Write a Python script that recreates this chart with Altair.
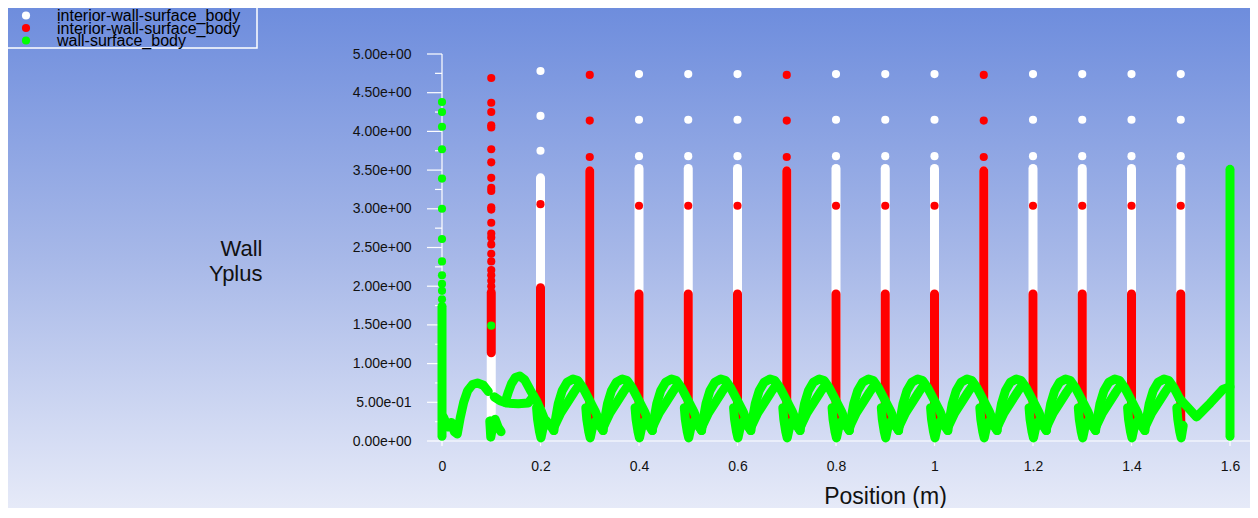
import altair as alt
import pandas as pd

# ---------------- data ----------------
SERIES_NAMES = ["interior-wall-surface_body", "interior-wall-surface_body", "wall-surface_body"]
SERIES_COLORS = ["#ffffff", "#ff0000", "#00ff00"]

X_TICKS = [0, 0.2, 0.4, 0.6, 0.8, 1.0, 1.2, 1.4, 1.6]
Y_TICKS = [0.0, 0.5, 1.0, 1.5, 2.0, 2.5, 3.0, 3.5, 4.0, 4.5, 5.0]
Y_MINOR = [0.25, 0.75, 1.25, 1.75, 2.25, 2.75, 3.25, 3.75, 4.25, 4.75]

# dense vertical runs of points (centre of lowest / highest point)
WHITE_RUN_X = [0.1, 0.2, 0.3, 0.4, 0.5, 0.6, 0.7, 0.8, 0.9, 1.0, 1.1, 1.2, 1.3, 1.4, 1.5]
WHITE_RUN_LO = [0.10, 0.30, 0.30, 0.30, 0.30, 0.30, 0.30, 0.30, 0.30, 0.30, 0.30, 0.30, 0.30, 0.30, 0.30]
WHITE_RUN_HI = [1.10, 3.40, 3.49, 3.52, 3.52, 3.52, 3.49, 3.52, 3.52, 3.52, 3.49, 3.52, 3.52, 3.52, 3.52]

RED_RUN_X = [0.1, 0.2, 0.3, 0.4, 0.5, 0.6, 0.7, 0.8, 0.9, 1.0, 1.1, 1.2, 1.3, 1.4, 1.5]
RED_RUN_LO = [1.14, 0.45, 0.22, 0.22, 0.22, 0.22, 0.22, 0.22, 0.22, 0.22, 0.22, 0.22, 0.22, 0.22, 0.22]
RED_RUN_HI = [1.92, 1.98, 3.49, 1.90, 1.90, 1.90, 3.49, 1.90, 1.90, 1.90, 3.49, 1.90, 1.90, 1.90, 1.90]

GREEN_RUN_X = [0.0, 1.6]
GREEN_RUN_LO = [0.06, 0.06]
GREEN_RUN_HI = [1.74, 3.51]

# isolated points
WHITE_DOTS = {
    0.2: [4.78, 4.20, 3.75],
    0.4: [4.74, 4.15, 3.68],
    0.5: [4.74, 4.15, 3.68],
    0.6: [4.74, 4.15, 3.68],
    0.8: [4.74, 4.15, 3.68],
    0.9: [4.74, 4.15, 3.68],
    1.0: [4.74, 4.15, 3.68],
    1.2: [4.74, 4.15, 3.68],
    1.3: [4.74, 4.15, 3.68],
    1.4: [4.74, 4.15, 3.68],
    1.5: [4.74, 4.15, 3.68],
}
RED_DOTS = {
    0.1: [4.69, 4.37, 4.25, 4.08, 4.05, 3.77, 3.60, 3.40, 3.27, 3.23, 3.02, 2.99,
          2.82, 2.68, 2.63, 2.54, 2.42, 2.32, 2.21, 2.14, 2.07, 2.00],
    0.2: [3.06],
    0.3: [4.73, 4.14, 3.67],
    0.4: [3.04], 0.5: [3.04], 0.6: [3.04],
    0.7: [4.73, 4.14, 3.67],
    0.8: [3.04], 0.9: [3.04], 1.0: [3.04],
    1.1: [4.73, 4.14, 3.67],
    1.2: [3.04], 1.3: [3.04], 1.4: [3.04], 1.5: [3.04],
}
GREEN_DOTS = {
    0.0: [1.83, 1.94, 2.03, 2.14, 2.32, 2.61, 3.00, 3.39, 3.77, 4.06, 4.25, 4.38],
    0.1: [1.49],
}

# wall-surface_body traces
GREEN_START_X = [0.003, 0.012, 0.019, 0.025, 0.031, 0.037, 0.044, 0.052, 0.062, 0.072, 0.084, 0.094]
GREEN_START_Y = [0.31, 0.18, 0.24, 0.12, 0.09, 0.30, 0.50, 0.65, 0.73, 0.75, 0.72, 0.64]
GREEN_FLAT_X = [0.106, 0.118, 0.131, 0.155, 0.175, 0.186]
GREEN_FLAT_Y = [0.57, 0.52, 0.49, 0.48, 0.49, 0.58]
GREEN_LEAF1_X = [0.128, 0.134, 0.141, 0.149, 0.158, 0.168, 0.179, 0.192, 0.202, 0.212]
GREEN_LEAF1_Y = [0.50, 0.62, 0.74, 0.82, 0.84, 0.79, 0.66, 0.52, 0.38, 0.22]
GREEN_HOOK1_X = [0.097, 0.099, 0.103, 0.108, 0.114, 0.12]
GREEN_HOOK1_Y = [0.26, 0.05, 0.18, 0.28, 0.18, 0.12]

# one repeating loop (read from the period 0.5 - 0.6), offsets from its column
LEAF_COLUMNS = [0.2, 0.3, 0.4, 0.5, 0.6, 0.7, 0.8, 0.9, 1.0, 1.1, 1.2, 1.3, 1.4]
LEAF_DX = [0.027, 0.031, 0.036, 0.044, 0.054, 0.066, 0.076, 0.086, 0.098, 0.112, 0.125]
LEAF_Y = [0.135, 0.30, 0.48, 0.65, 0.76, 0.80, 0.78, 0.69, 0.545, 0.37, 0.16]
INNER_DX = [0.029, 0.041, 0.055, 0.068, 0.079]
INNER_Y = [0.20, 0.36, 0.50, 0.63, 0.73]
HOOK_COLUMNS = [0.2, 0.3, 0.4, 0.5, 0.6, 0.7, 0.8, 0.9, 1.0, 1.1, 1.2, 1.3, 1.4]
HOOK_DX = [-0.008, -0.006, -0.002, 0.001, 0.005, 0.012, 0.020, 0.027]
HOOK_Y = [0.43, 0.28, 0.12, 0.04, 0.16, 0.26, 0.20, 0.135]

GREEN_HOOK_LAST_X = [1.492, 1.494, 1.498, 1.501, 1.505]
GREEN_HOOK_LAST_Y = [0.43, 0.28, 0.12, 0.04, 0.20]
GREEN_END_X = [1.498, 1.515, 1.532, 1.560, 1.586, 1.600]
GREEN_END_Y = [0.545, 0.43, 0.31, 0.49, 0.67, 0.70]

# ---------------- tables ----------------
def runs(xs, lo, hi):
    return pd.DataFrame({"x": xs, "y": lo, "y2": hi})

def dots(d):
    xs, ys = [], []
    for k, vals in d.items():
        for v in vals:
            xs.append(k)
            ys.append(v)
    return pd.DataFrame({"x": xs, "y": ys})

line_rows = []
def add_line(xs, ys):
    sid = len({r["seg"] for r in line_rows})
    for i, (a, b) in enumerate(zip(xs, ys)):
        line_rows.append({"seg": sid, "i": i, "x": a, "y": b})

add_line(GREEN_START_X, GREEN_START_Y)
add_line(GREEN_FLAT_X, GREEN_FLAT_Y)
add_line(GREEN_LEAF1_X, GREEN_LEAF1_Y)
add_line(GREEN_HOOK1_X, GREEN_HOOK1_Y)
for c in LEAF_COLUMNS:
    n = len(LEAF_DX) if c < 1.35 else 9
    add_line([round(c + d, 4) for d in LEAF_DX[:n]], LEAF_Y[:n])
    add_line([round(c + d, 4) for d in INNER_DX], INNER_Y)
for c in HOOK_COLUMNS:
    add_line([round(c + d, 4) for d in HOOK_DX], HOOK_Y)
add_line(GREEN_HOOK_LAST_X, GREEN_HOOK_LAST_Y)
add_line(GREEN_END_X, GREEN_END_Y)
green_lines = pd.DataFrame(line_rows)

# ---------------- chart ----------------
W, H = 808, 387
X_MAX = 1.6406
FONT = "Liberation Sans"
TXT = "#111111"

XS = alt.Scale(domain=[0, X_MAX], nice=False, zero=False)
YS = alt.Scale(domain=[0, 5], nice=False, zero=False)
XAX = alt.Axis(values=X_TICKS, format="~g", domain=False, ticks=False, grid=False,
               labelFlush=False, labelOverlap=False, labelPadding=18, labelFontSize=14,
               labelFont=FONT, labelColor=TXT, title="Position (m)", titleFont=FONT,
               titleFontSize=23, titleFontWeight="normal", titleColor=TXT, titleX=443,
               titleY=62, titleBaseline="alphabetic", titleAlign="center", zindex=1)
YAX = alt.Axis(values=Y_TICKS,
               labelExpr="replace(replace(format(datum.value, '.2e'), 'e+', 'e+0'), 'e-', 'e-0')",
               domain=False, ticks=False, grid=False, labelFlush=False, labelOverlap=False,
               labelPadding=31, labelFontSize=14, labelFont=FONT, labelColor=TXT,
               title=["Wall", "Yplus"], titleFont=FONT, titleFontSize=22,
               titleFontWeight="normal", titleColor=TXT, titleAngle=0, titleAlign="right",
               titleBaseline="alphabetic", titleX=-180, titleY=201, titleLineHeight=25, zindex=1)
XE = alt.X("x:Q", scale=XS, axis=XAX)
YE = alt.Y("y:Q", scale=YS, axis=YAX)
Y2E = alt.Y2("y2:Q")

one = pd.DataFrame({"a": [0]})
gradient = {"gradient": "linear", "x1": 0, "y1": 0, "x2": 0, "y2": 1,
            "stops": [{"offset": 0, "color": "#6e8ddd"},
                      {"offset": 0.5, "color": "#a7b8e8"},
                      {"offset": 1, "color": "#e6eaf8"}]}
bg = alt.Chart(one).mark_rect(fill=gradient, strokeWidth=0).encode(
    x=alt.value(-434), x2=alt.value(W), y=alt.value(-46), y2=alt.value(454))

y_domain = alt.Chart(one).mark_rule(color="white", strokeWidth=1.2).encode(
    x=alt.value(0), y=alt.value(0), y2=alt.value(H))
x_domain = alt.Chart(one).mark_rule(color="white", strokeWidth=1.2).encode(
    x=alt.value(0), x2=alt.value(W), y=alt.value(H))
y_major = alt.Chart(pd.DataFrame({"y": Y_TICKS})).mark_rule(color="white", strokeWidth=1.2).encode(
    y=YE, x=alt.value(-15), x2=alt.value(0))
y_minor = alt.Chart(pd.DataFrame({"y": Y_MINOR})).mark_rule(color="white", strokeWidth=1.2).encode(
    y=YE, x=alt.value(-7), x2=alt.value(0))
x_major = alt.Chart(pd.DataFrame({"x": X_TICKS})).mark_rule(color="white", strokeWidth=1.2).encode(
    x=XE, y=alt.value(H), y2=alt.value(H + 5))

def run_layer(df, color):
    return alt.Chart(df).mark_rule(color=color, strokeWidth=9, strokeCap="round").encode(
        x=XE, y=YE, y2=Y2E)

def dot_layer(df, color):
    return alt.Chart(df).mark_circle(color=color, size=66, opacity=1).encode(x=XE, y=YE)

white_runs = run_layer(runs(WHITE_RUN_X, WHITE_RUN_LO, WHITE_RUN_HI), SERIES_COLORS[0])
white_dots = dot_layer(dots(WHITE_DOTS), SERIES_COLORS[0])
red_runs = run_layer(runs(RED_RUN_X, RED_RUN_LO, RED_RUN_HI), SERIES_COLORS[1])
red_dots = dot_layer(dots(RED_DOTS), SERIES_COLORS[1])
green_curve = alt.Chart(green_lines).mark_line(
    color=SERIES_COLORS[2], strokeWidth=9, strokeCap="round", strokeJoin="round").encode(
    x=XE, y=YE, detail="seg:N", order="i:Q")
green_runs = run_layer(runs(GREEN_RUN_X, GREEN_RUN_LO, GREEN_RUN_HI), SERIES_COLORS[2])
green_dots = dot_layer(dots(GREEN_DOTS), SERIES_COLORS[2])

# legend box (top-left corner of the window)
legend_box = alt.Chart(one).mark_rect(filled=False, color="white", strokeWidth=1.5).encode(
    x=alt.value(-442), x2=alt.value(-185), y=alt.value(-54), y2=alt.value(-6))
legend_layers = []
LEG_DOT_Y = [-38.5, -26, -13.5]
LEG_TXT_Y = [-33, -20.5, -8]
for name, col, dy, ty in zip(SERIES_NAMES, SERIES_COLORS, LEG_DOT_Y, LEG_TXT_Y):
    legend_layers.append(alt.Chart(one).mark_circle(color=col, size=66, opacity=1).encode(
        x=alt.value(-416), y=alt.value(dy)))
    legend_layers.append(alt.Chart(one).mark_text(
        text=name, align="left", baseline="alphabetic", font=FONT, fontSize=16,
        color="#000000", limit=201, ellipsis="\u200b").encode(x=alt.value(-385), y=alt.value(ty)))

chart = alt.layer(
    bg, y_domain, x_domain, y_major, y_minor, x_major,
    white_runs, white_dots, red_runs, red_dots,
    green_curve, green_runs, green_dots,
    legend_box, *legend_layers,
).properties(
    width=W, height=H,
    padding={"left": 434, "top": 46, "right": 0, "bottom": 67},
    autosize=alt.AutoSizeParams(type="none"),
    background="#ffffff",
).configure_view(strokeWidth=0)

chart.save("out.html", embed_options={"renderer": "svg", "actions": False})
